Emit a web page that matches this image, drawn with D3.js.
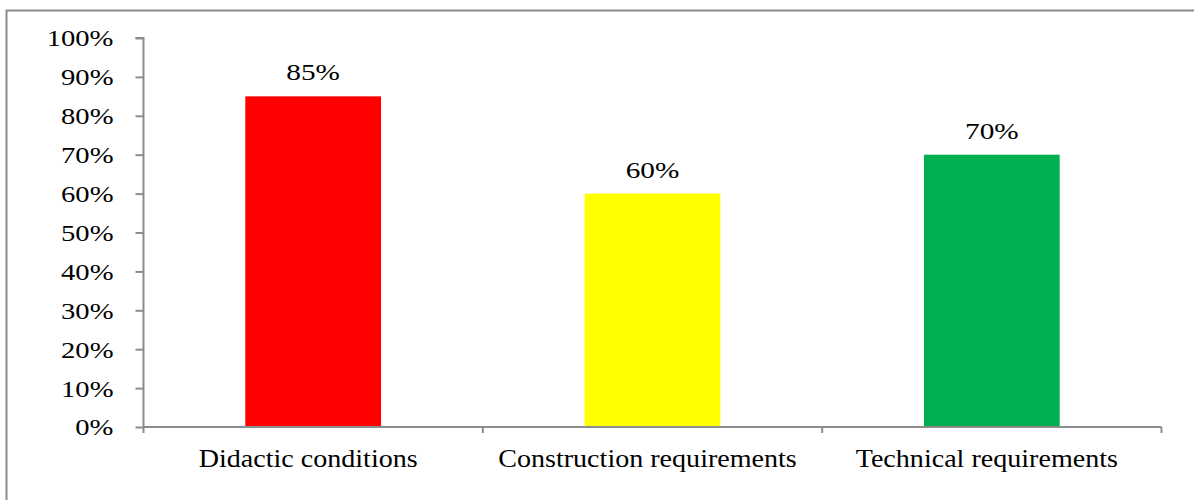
<!DOCTYPE html>
<html>
<head>
<meta charset="utf-8">
<script src="https://cdn.jsdelivr.net/npm/d3@7"></script>
<style>
html,body{margin:0;padding:0;background:#fff;overflow:hidden;}
svg{display:block;}
text{font-family:"Liberation Serif","Times New Roman",serif;fill:#000;}
</style>
</head>
<body>
<svg id="chart" width="1194" height="500"></svg>
<script>
const categories = ["Didactic conditions", "Construction requirements", "Technical requirements"];
const values = [0.85, 0.60, 0.70];
const barColors = ["#ff0000", "#ffff00", "#00b050"];
const yTicks = [0, 0.1, 0.2, 0.3, 0.4, 0.5, 0.6, 0.7, 0.8, 0.9, 1.0];

const svg = d3.select("#chart");

// outer frame (right/bottom edges fall outside the view)
svg.append("rect")
  .attr("x", 6.5).attr("y", 10.5)
  .attr("width", 1200).attr("height", 600)
  .attr("fill", "none").attr("stroke", "#8c8c8c").attr("stroke-width", 2);

const mLeft = 143.5, mRight = 1161.5, mTop = 38, mBottom = 427;

const x = d3.scaleBand().domain(categories).range([mLeft, mRight]).paddingInner(0.6).paddingOuter(0.3);
const y = d3.scaleLinear().domain([0, 1]).range([mBottom, mTop]);
const xOuter = d3.scaleBand().domain(categories).range([mLeft, mRight]).padding(0);

const axisColor = "#8c8c8c";
const tickScale = 1.22;

// y axis
const yAxis = svg.append("g").attr("transform", `translate(${mLeft},0)`)
  .call(d3.axisLeft(y).tickValues(yTicks).tickFormat(d3.format(".0%")).tickSize(8).tickPadding(14));
yAxis.attr("font-family", null).attr("font-size", null);
yAxis.select(".domain").attr("stroke", axisColor).attr("stroke-width", 2).attr("d", `M-8,${mTop}H0V${mBottom}`);
yAxis.selectAll(".tick line").attr("stroke", axisColor).attr("stroke-width", 2);
yAxis.selectAll(".tick text")
  .style("font-size", "23.5px")
  .attr("fill", "#000")
  .attr("transform", `scale(${tickScale},1)`)
  .attr("x", -30 / tickScale)
  .attr("dy", "0.34em");

// bars
svg.append("g").selectAll("rect").data(categories).join("rect")
  .attr("x", d => x(d)).attr("width", x.bandwidth())
  .attr("y", (d, i) => y(values[i]))
  .attr("height", (d, i) => y(0) - y(values[i]))
  .attr("fill", (d, i) => barColors[i]);

// x axis
const xAxisG = svg.append("g").attr("transform", `translate(0,${mBottom})`);
xAxisG.append("path").attr("d", `M${mLeft},0H${mRight}`).attr("stroke", axisColor).attr("stroke-width", 2).attr("fill", "none");
const boundaries = [mLeft].concat(categories.map(c => xOuter(c) + xOuter.bandwidth()));
xAxisG.selectAll("line.tk").data(boundaries).join("line").attr("class", "tk")
  .attr("x1", d => d).attr("x2", d => d).attr("y1", 0).attr("y2", 6)
  .attr("stroke", axisColor).attr("stroke-width", 2);

const labelScale = 1.08;
xAxisG.selectAll("text.cat").data(categories).join("text").attr("class", "cat")
  .attr("text-anchor", "middle")
  .attr("transform", d => `translate(${xOuter(d) + xOuter.bandwidth()/2 - 5},40) scale(${labelScale},1)`)
  .style("font-size", "26px")
  .text(d => d);

// value labels
svg.append("g").selectAll("text").data(categories).join("text")
  .attr("text-anchor", "middle")
  .attr("transform", (d, i) => `translate(${x(d) + x.bandwidth()/2},${y(values[i]) - 16}) scale(${tickScale},1)`)
  .style("font-size", "24px")
  .text((d, i) => d3.format(".0%")(values[i]));
</script>
</body>
</html>
